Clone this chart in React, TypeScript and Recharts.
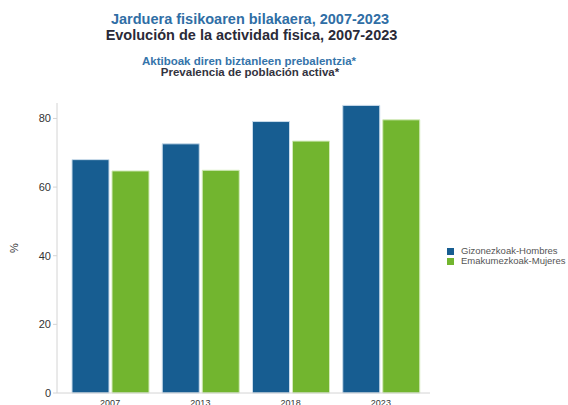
import React from "react";
import { BarChart, Bar, XAxis, YAxis, Legend } from "recharts";

const years = ["2007", "2013", "2018", "2023"];
const men = [68.0, 72.6, 79.1, 83.8];
const women = [64.7, 64.9, 73.4, 79.6];
const yTicks = [0, 20, 40, 60, 80];
const seriesNames = ["Gizonezkoak-Hombres", "Emakumezkoak-Mujeres"];
const titleEu = "Jarduera fisikoaren bilakaera, 2007-2023";
const titleEs = "Evolución de la actividad fisica, 2007-2023";
const subEu = "Aktiboak diren biztanleen prebalentzia*";
const subEs = "Prevalencia de población activa*";

const data = years.map((y, i) => ({ year: y, men: men[i], women: women[i] }));

const FONT = "'Liberation Sans', Arial, Helvetica, sans-serif";
const BLUE = "#175d91";
const GREEN = "#72b52f";
const seriesColors = [BLUE, GREEN];

const YLabel = (props: any) => {
  const { viewBox } = props;
  const cy = viewBox.y + viewBox.height / 2;
  return (
    <text
      x={18}
      y={cy}
      transform={`rotate(-90, 18, ${cy})`}
      textAnchor="middle"
      fontSize={11}
      fill="#333"
      fontFamily={FONT}
    >
      %
    </text>
  );
};

const LegendContent = () => (
  <div style={{ fontFamily: FONT, fontSize: 9.5, color: "#555", lineHeight: "10px" }}>
    {seriesNames.map((n, i) => (
      <div key={n} style={{ display: "flex", alignItems: "center", marginBottom: 0 }}>
        <span style={{ display: "inline-block", width: 7, height: 7, background: seriesColors[i], marginRight: 7 }} />
        <span style={{ whiteSpace: "nowrap" }}>{n}</span>
      </div>
    ))}
  </div>
);

export default function App() {
  return (
    <div
      style={{
        position: "absolute",
        left: 0,
        top: 0,
        width: 568,
        height: 405,
        background: "#fff",
        fontFamily: FONT,
        overflow: "hidden",
      }}
    >
      <div style={{ position: "absolute", left: 0, width: 500, top: 11, textAlign: "center", fontSize: 14.5, fontWeight: "bold", color: "#2f6ea5", lineHeight: "16px" }}>
        {titleEu}
      </div>
      <div style={{ position: "absolute", left: 0, width: 503, top: 27, textAlign: "center", fontSize: 14.5, fontWeight: "bold", color: "#2a2a38", lineHeight: "16px" }}>
        {titleEs}
      </div>
      <div style={{ position: "absolute", left: 0, width: 498, top: 55, textAlign: "center", fontSize: 11.5, fontWeight: "bold", color: "#3574aa", lineHeight: "12px" }}>
        {subEu}
      </div>
      <div style={{ position: "absolute", left: 0, width: 500, top: 66, textAlign: "center", fontSize: 11.5, fontWeight: "bold", color: "#333340", lineHeight: "12px" }}>
        {subEs}
      </div>
      <div style={{ position: "absolute", left: 0, top: 0 }}>
        <BarChart
          width={568}
          height={405}
          data={data}
          margin={{ top: 103, right: 138, bottom: 0, left: 10 }}
          barGap={3}
          barCategoryGap={7}
        >
          <XAxis
            dataKey="year"
            height={12}
            tickLine={false}
            axisLine={{ stroke: "#d4d4d4" }}
            padding={{ left: 8, right: 4 }}
            tick={{ fontSize: 9, fill: "#333", fontFamily: FONT }}
            tickSize={5}
            interval={0}
          />
          <YAxis
            width={47}
            domain={[0, 84.5]}
            ticks={yTicks}
            axisLine={{ stroke: "#d4d4d4" }}
            tickLine={{ stroke: "#d4d4d4" }}
            tickSize={4}
            tick={{ fontSize: 11, fill: "#333", fontFamily: FONT }}
            label={<YLabel />}
          />
          <Legend
            layout="vertical"
            align="center"
            verticalAlign="middle"
            content={<LegendContent />}
            wrapperStyle={{ position: "absolute", left: 447, top: 246, width: 121, height: 22 }}
          />
          <Bar dataKey="men" name={seriesNames[0]} fill={BLUE} stroke="#c9dbea" strokeWidth={1} isAnimationActive={false} />
          <Bar dataKey="women" name={seriesNames[1]} fill={GREEN} stroke="#d3ebbb" strokeWidth={1} isAnimationActive={false} />
        </BarChart>
      </div>
    </div>
  );
}
